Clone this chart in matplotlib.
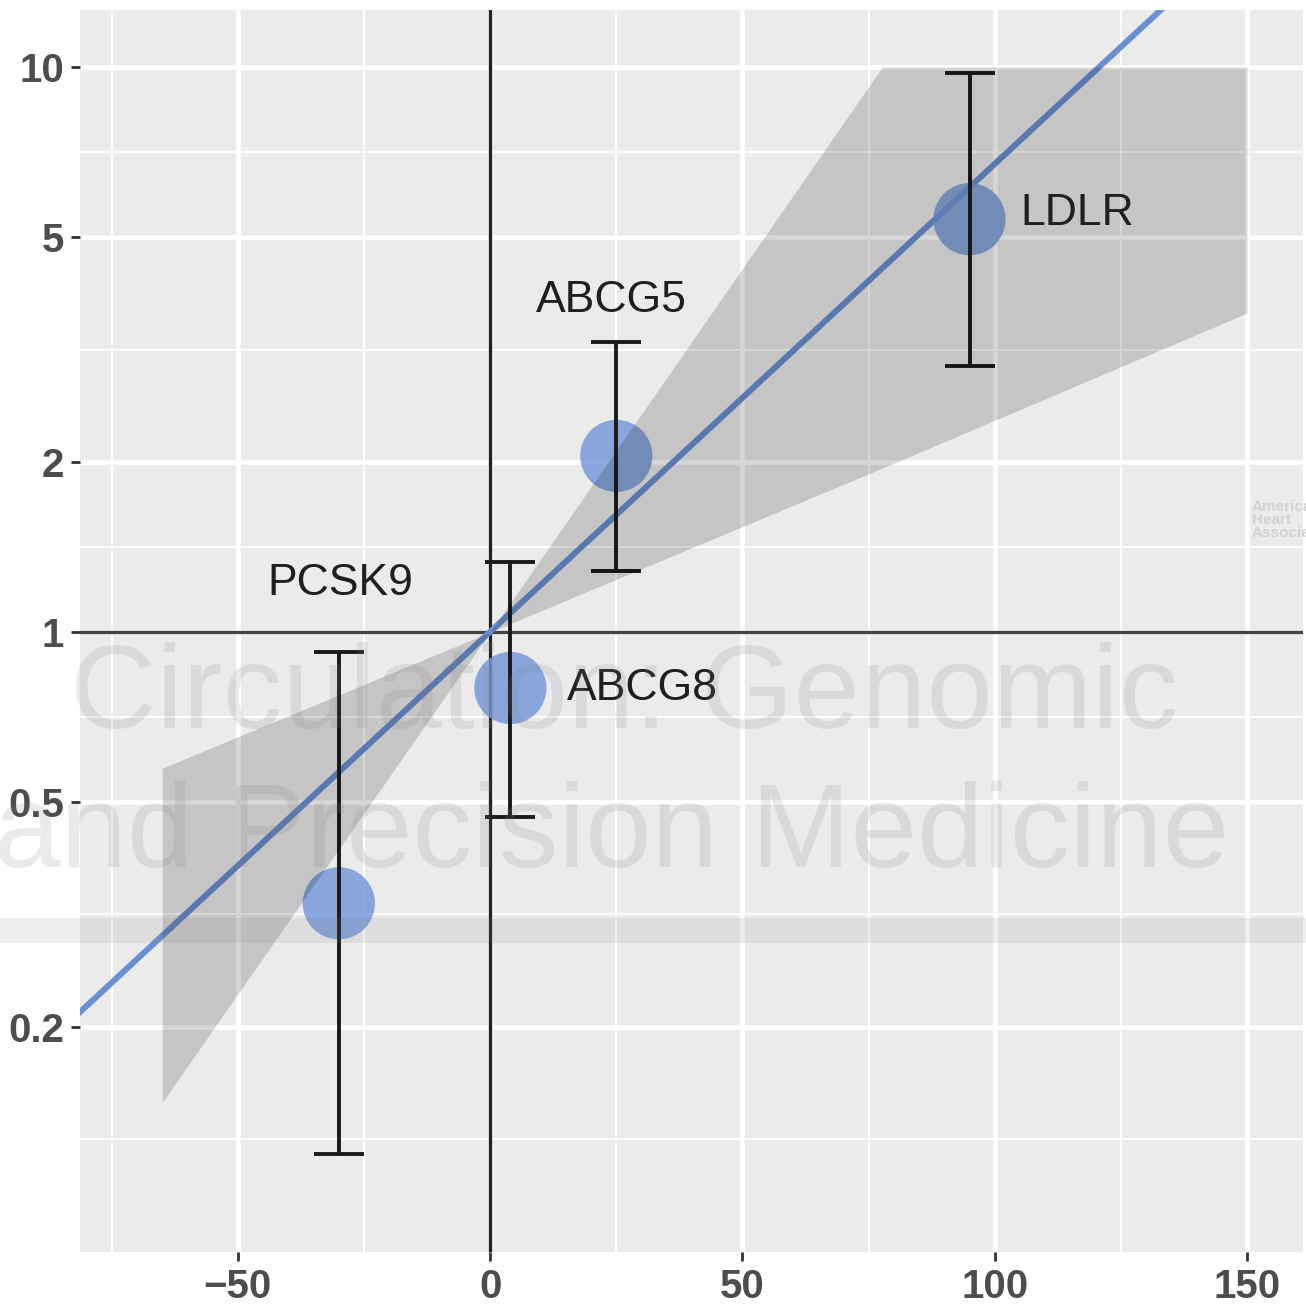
import numpy as np
import matplotlib
matplotlib.use("Agg")
import matplotlib.pyplot as plt
from matplotlib.ticker import FixedLocator, NullFormatter

plt.rcParams["font.family"] = ["Liberation Sans", "DejaVu Sans"]

# gene-level estimates (x effect vs odds ratio)
genes   = ["PCSK9", "ABCG8", "ABCG5", "LDLR"]
x_vals  = [-30, 4, 25, 95]
or_vals = [0.331, 0.796, 2.05, 5.38]
ci_lo   = [0.119, 0.471, 1.28, 2.96]
ci_hi   = [0.922, 1.33, 3.26, 9.75]

# fitted line through origin and its confidence band
fit_x   = [-90, 170]
fit_y   = [0.18, 25.6]
band_x  = [-65, 0, 77.7, 150]
band_lo = [0.147, 1.0, 1.95, 3.67]
band_hi = [0.574, 1.0, 10.0, 10.0]

# label positions
lab_x   = [-29.8, 15.2, 24.1, 105.0]
lab_y   = [1.22, 0.793, 3.87, 5.5]
lab_ha  = ["center", "left", "center", "left"]

x_ticks = [-50, 0, 50, 100, 150]
x_minor = [-75, -25, 25, 75, 125]
y_ticks = [0.2, 0.5, 1, 2, 5, 10]
y_minor = [10 ** -0.898, 10 ** -0.5, 10 ** -0.15, 10 ** 0.15, 10 ** 0.5, 10 ** 0.849]

PANEL = "#ebebeb"
POINT = "#7297d8"
LINE  = "#6a8fd2"

fig = plt.figure(figsize=(13.06, 13.11), dpi=100, facecolor="white")
ax = fig.add_axes([80 / 1306, 1 - 1252 / 1311, 1223 / 1306, 1242 / 1311])
ax.set_facecolor(PANEL)
ax.set_yscale("log")
ax.set_xlim(-81.3, 161.1)
ax.set_ylim(0.0799, 12.62)

# grid
ax.xaxis.set_major_locator(FixedLocator(x_ticks))
ax.yaxis.set_major_locator(FixedLocator(y_ticks))
ax.xaxis.set_minor_locator(FixedLocator(x_minor))
ax.yaxis.set_minor_locator(FixedLocator(y_minor))
ax.yaxis.set_minor_formatter(NullFormatter())
ax.set_yticklabels(["0.2", "0.5", "1", "2", "5", "10"])
ax.set_xticklabels(["\u221250", "0", "50", "100", "150"])
ax.grid(which="major", color="white", linewidth=3.4, zorder=0)
ax.grid(which="minor", color="white", linewidth=1.4, zorder=0)
ax.set_axisbelow(True)
for s in ax.spines.values():
    s.set_visible(False)
ax.tick_params(which="major", length=6.5, width=2, color="#333333",
               labelsize=29, labelcolor="#4d4d4d", pad=5)
ax.tick_params(which="minor", length=0)
for lab in ax.get_xticklabels() + ax.get_yticklabels():
    lab.set_fontweight("bold")

# reference lines
ax.axvline(0, color="#222222", linewidth=2.4, zorder=2)
ax.axhline(1, color="#444444", linewidth=2.4, zorder=2)

# fit line
ax.plot(fit_x, fit_y, color=LINE, linewidth=4.3, zorder=3, solid_capstyle="butt")

# points + error bars
ax.scatter(x_vals, or_vals, s=52 ** 2, color=POINT, alpha=0.82,
           edgecolors="none", zorder=4)
yerr = [np.array(or_vals) - np.array(ci_lo), np.array(ci_hi) - np.array(or_vals)]
ax.errorbar(x_vals, or_vals, yerr=yerr, fmt="none", ecolor="#1a1a1a",
            elinewidth=2.8, capsize=18, capthick=2.8, zorder=5)

# confidence band (darkens what lies under it)
ax.fill_between(band_x, band_lo, band_hi, color="black", alpha=0.16,
                linewidth=0, zorder=6)

for g, tx, ty, ha in zip(genes, lab_x, lab_y, lab_ha):
    ax.text(tx, ty, g, fontsize=32, color="#1f1f1f", ha=ha, va="center", zorder=7)

# publisher watermark
wm = dict(fontsize=86, color="#808080", alpha=0.16, zorder=10)
fig.text(70 / 1306, 1 - 728 / 1311, "Circulation: Genomic", va="baseline", **wm)
fig.text(-6 / 1306, 1 - 867 / 1311, "and Precision Medicine", va="baseline", **wm)
fig.patches.append(plt.Rectangle((0, 1 - 943 / 1311), 1, 25 / 1311,
                                 transform=fig.transFigure, color="#808080",
                                 alpha=0.13, linewidth=0, zorder=10))
fig.text(1252 / 1306, 1 - 520 / 1311, "American\nHeart\nAssociation",
         fontsize=11, fontweight="bold", color="#d2d2d2", va="center",
         linespacing=0.95, zorder=10)

fig.savefig("out.png", dpi=100, facecolor="white")
